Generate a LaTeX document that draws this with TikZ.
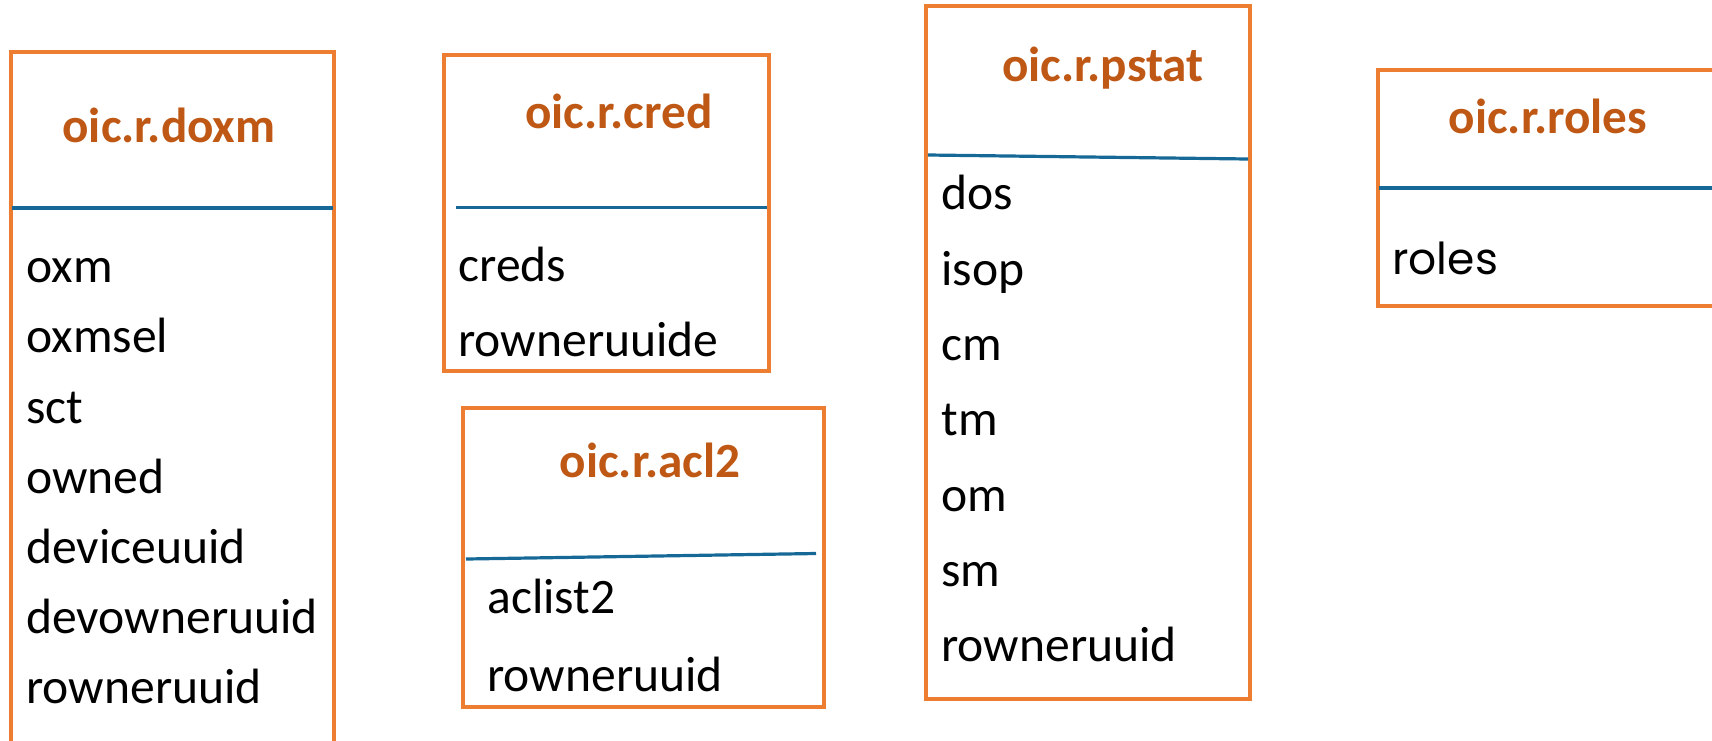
\documentclass[tikz,border=0pt]{standalone}
\usepackage{fontspec}
\setmainfont{Carlito}
\newfontfamily\rolesfont{Poppins}
\definecolor{boxorange}{RGB}{237,125,49}
\definecolor{titlebrown}{RGB}{190,88,20}
\definecolor{sepblue}{RGB}{22,104,150}
\tikzset{
  box/.style={draw=boxorange, line width=2pt, rectangle},
  sep/.style={draw=sepblue, line width=1.6pt},
  title/.style={font=\fontsize{24.6}{28}\selectfont\bfseries, text=titlebrown, anchor=mid, inner sep=0pt},
  item/.style={font=\fontsize{24.8}{28}\selectfont, anchor=mid west, inner sep=0pt},
}
\begin{document}
\begin{tikzpicture}[x=0.5pt,y=-0.5pt]
\useasboundingbox (0,0) rectangle (1712,740);
\clip (0,0) rectangle (1712,740);
% doxm
\draw[box] (11,52) rectangle (334,760);
\node[title] (tdoxm) at (169,138) {oic.r.doxm};
\coordinate (d1) at (12,208); \coordinate (d2) at (333,208);
\draw[sep] (d1) -- (d2);
\node[item] (i1) at (26,278) {oxm};
\node[item] (i2) at (26,348) {oxmsel};
\node[item] (i3) at (26,418.5) {sct};
\node[item] (i4) at (26,489) {owned};
\node[item] (i5) at (26,559) {deviceuuid};
\node[item] (i6) at (26,629) {devowneruuid};
\node[item] (i7) at (26,699) {rowneruuid};
% cred
\draw[box] (444,55) rectangle (769,371);
\node[title] (tcred) at (619,124) {oic.r.cred};
\coordinate (c1) at (456,207.5); \coordinate (c2) at (767,207.5);
\draw[sep] (c1) -- (c2);
\node[item] (c3) at (458,277) {creds};
\node[item] (c4) at (458,352) {rowneruuide};
% acl2
\draw[box] (463,408) rectangle (824,707);
\node[title] (tacl) at (650,473) {oic.r.acl2};
\coordinate (a1) at (466,559); \coordinate (a2) at (816,553.5);
\draw[sep] (a1) -- (a2);
\node[item] (a3) at (487,609) {aclist2};
\node[item] (a4) at (487,687) {rowneruuid};
% pstat
\draw[box] (926,6) rectangle (1250,699);
\node[title] (tpstat) at (1103,77) {oic.r.pstat};
\coordinate (p1) at (928,155); \coordinate (p2) at (1248,159);
\draw[sep] (p1) -- (p2);
\node[item] (p3) at (941,205) {dos};
\node[item] (p4) at (941,280.3) {isop};
\node[item] (p5) at (941,355.7) {cm};
\node[item] (p6) at (941,431) {tm};
\node[item] (p7) at (941,506.3) {om};
\node[item] (p8) at (941,581.7) {sm};
\node[item] (p9) at (941,657) {rowneruuid};
% roles
\draw[box] (1378,70) rectangle (1730,306);
\node[title] (troles) at (1548,129) {oic.r.roles};
\coordinate (r1) at (1379,188); \coordinate (r2) at (1712,188);
\draw[sep] (r1) -- (r2);
\node[item, font=\rolesfont\fontsize{22}{26}\selectfont] (r3) at (1392,270) {roles};
\end{tikzpicture}
\end{document}
